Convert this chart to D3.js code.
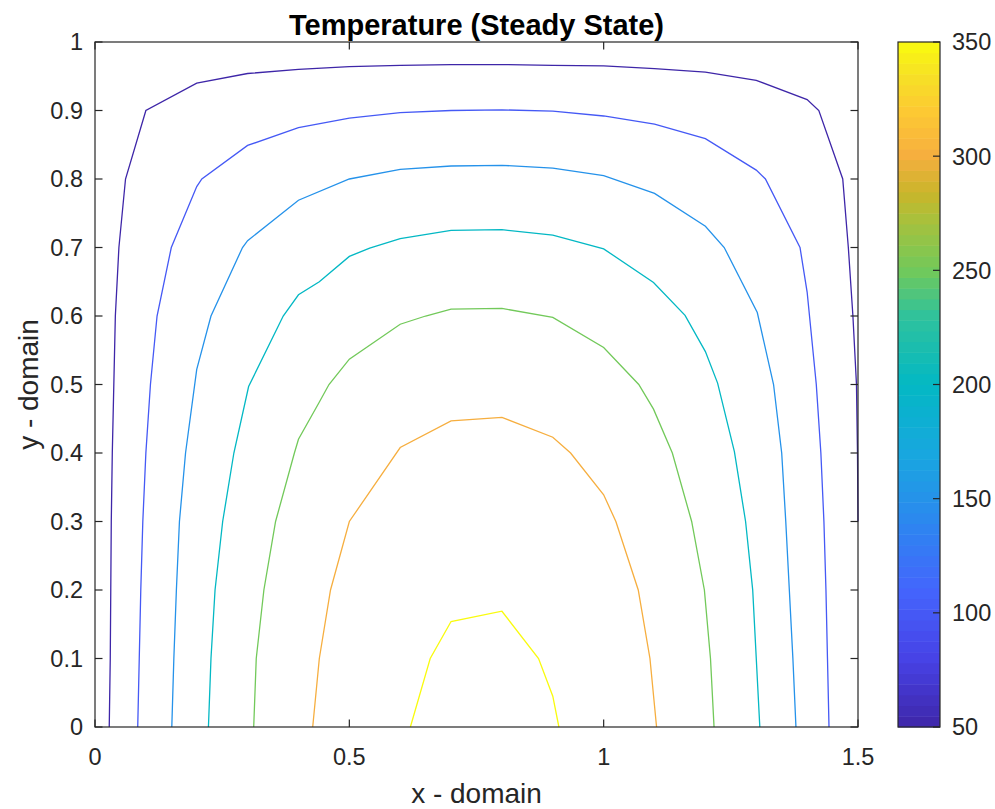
<!DOCTYPE html>
<html>
<head>
<meta charset="utf-8">
<script src="https://cdn.jsdelivr.net/npm/d3@7"></script>
<style>
body { margin: 0; background: #fff; }
text { font-family: "Liberation Sans", Arial, Helvetica, sans-serif; }
</style>
</head>
<body>
<div id="canvas"></div>
<script>
"use strict"

/* data: contour levels and the contour lines ([x, y]) */
let levels = [50, 100, 150, 200, 250, 300, 350];

let line50 = [[0.028,0],[0.030,0.1],[0.031,0.2],[0.032,0.3],[0.034,0.4],[0.037,0.5],[0.040,0.6],[0.047,0.7],[0.060,0.8],[0.100,0.9],
    [0.2,0.94],[0.3,0.954],[0.4,0.96],[0.5,0.964],[0.6,0.966],[0.7,0.967],[0.8,0.967],[0.9,0.966],[1.0,0.965],[1.1,0.961],
    [1.2,0.956],[1.3,0.944],[1.4,0.916],[1.423,0.9],[1.470,0.8],[1.481,0.7],[1.490,0.6],[1.497,0.5],[1.499,0.4],[1.5,0.3]];

let line100 = [[0.084,0],[0.087,0.1],[0.090,0.2],[0.094,0.3],[0.100,0.4],[0.109,0.5],[0.122,0.6],[0.150,0.7],[0.2,0.789],[0.21,0.8],
    [0.3,0.849],[0.4,0.875],[0.5,0.889],[0.6,0.897],[0.7,0.9],[0.8,0.901],[0.9,0.899],[1.0,0.892],[1.1,0.88],[1.2,0.859],
    [1.3,0.813],[1.318,0.8],[1.386,0.7],[1.4,0.635],[1.418,0.5],[1.427,0.4],[1.433,0.3],[1.437,0.2],[1.44,0.1],[1.443,0]];

let line150 = [[0.151,0],[0.155,0.1],[0.160,0.2],[0.166,0.3],[0.178,0.4],[0.2,0.522],[0.228,0.6],[0.29,0.7],[0.3,0.71],
    [0.4,0.769],[0.5,0.8],[0.6,0.814],[0.7,0.819],[0.8,0.82],[0.9,0.816],[1.0,0.805],[1.1,0.779],[1.2,0.731],[1.237,0.7],
    [1.302,0.605],[1.334,0.5],[1.35,0.4],[1.358,0.3],[1.365,0.2],[1.372,0.1],[1.378,0]];

let line200 = [[0.223,0],[0.228,0.1],[0.236,0.2],[0.251,0.3],[0.273,0.4],[0.302,0.497],[0.37,0.6],[0.4,0.631],[0.441,0.65],
    [0.5,0.687],[0.54,0.699],[0.6,0.713],[0.7,0.725],[0.8,0.726],[0.9,0.718],[1.0,0.698],[1.098,0.649],[1.16,0.601],
    [1.2,0.548],[1.224,0.502],[1.257,0.402],[1.279,0.3],[1.293,0.2],[1.3,0.1],[1.307,0]];

let line250 = [[0.312,0],[0.317,0.1],[0.332,0.2],[0.355,0.3],[0.392,0.4],[0.4,0.42],[0.44,0.473],[0.46,0.5],[0.5,0.537],
    [0.6,0.588],[0.65,0.6],[0.7,0.61],[0.8,0.611],[0.9,0.598],[1.0,0.554],[1.069,0.5],[1.098,0.464],[1.135,0.4],
    [1.173,0.3],[1.198,0.2],[1.21,0.1],[1.217,0]];

let line300 = [[0.428,0],[0.441,0.1],[0.463,0.2],[0.5,0.3],[0.6,0.408],[0.7,0.447],[0.8,0.452],[0.9,0.423],[0.935,0.4],
    [1.0,0.339],[1.024,0.3],[1.068,0.2],[1.091,0.1],[1.104,0]];

let line350 = [[0.62,0],[0.659,0.1],[0.7,0.154],[0.8,0.169],[0.872,0.1],[0.9,0.045],[0.912,0]];

let contourLines = [line50, line100, line150, line200, line250, line300, line350];

let xTicks = [0, 0.5, 1, 1.5];
let yTicks = [0, 0.1, 0.2, 0.3, 0.4, 0.5, 0.6, 0.7, 0.8, 0.9, 1];
let cbTicks = [50, 100, 150, 200, 250, 300, 350];

/* drawing config */
let svgWidth = 995;
let svgHeight = 809;
let plotLeft = 95, plotRight = 858, plotTop = 42, plotBottom = 727;
let cbLeft = 898, cbRight = 940;
let axisColor = "#262626";
let tickLen = 7.5;
let tickFont = 23.5;
let labelFont = 28;

let svg = d3.select("#canvas")
    .append("svg")
    .attr("width", svgWidth)
    .attr("height", svgHeight);

/* parula-like colormap */
let parulaStops = ["#3e26a8", "#4742e6", "#4465fd", "#2c87ef", "#18a7df", "#03b8c4",
    "#2fc29c", "#72c95a", "#b0bf38", "#c9b52a", "#f6ae3f", "#fdca33", "#f6e026", "#f9fb0e"];
let parulaPos = [0, 0.1, 0.2, 0.3, 0.4, 0.5, 0.6, 0.667, 0.75, 0.78, 0.833, 0.9, 0.95, 1];
let parula = d3.scaleLinear().domain(parulaPos).range(parulaStops).interpolate(d3.interpolateRgb).clamp(true);

let xScale = d3.scaleLinear().domain([0, 1.5]).range([plotLeft, plotRight]);
let yScale = d3.scaleLinear().domain([0, 1]).range([plotBottom, plotTop]);
let cScale = d3.scaleLinear().domain([50, 350]).range([0, 1]);
let cbScale = d3.scaleLinear().domain([50, 350]).range([plotBottom, plotTop]);

/* contour lines */
let lineGen = d3.line()
    .x(d => xScale(d[0]))
    .y(d => yScale(d[1]));

svg.selectAll(".contour")
    .data(contourLines)
    .join("path")
    .attr("class", "contour")
    .attr("fill", "none")
    .attr("stroke", (d, i) => parula(cScale(levels[i])))
    .attr("stroke-width", 1.3)
    .attr("d", lineGen);

/* axes box with inward ticks (MATLAB style) */
svg.append("rect")
    .attr("x", plotLeft)
    .attr("y", plotTop)
    .attr("width", plotRight - plotLeft)
    .attr("height", plotBottom - plotTop)
    .attr("fill", "none")
    .attr("stroke", axisColor)
    .attr("stroke-width", 1.2);

let tickG = svg.append("g").attr("stroke", axisColor).attr("stroke-width", 1.2);
xTicks.forEach(function(t) {
    tickG.append("line").attr("x1", xScale(t)).attr("x2", xScale(t))
        .attr("y1", plotBottom).attr("y2", plotBottom - tickLen);
    tickG.append("line").attr("x1", xScale(t)).attr("x2", xScale(t))
        .attr("y1", plotTop).attr("y2", plotTop + tickLen);
});
yTicks.forEach(function(t) {
    tickG.append("line").attr("x1", plotLeft).attr("x2", plotLeft + tickLen)
        .attr("y1", yScale(t)).attr("y2", yScale(t));
    tickG.append("line").attr("x1", plotRight).attr("x2", plotRight - tickLen)
        .attr("y1", yScale(t)).attr("y2", yScale(t));
});

svg.selectAll(".xTickLabel")
    .data(xTicks)
    .join("text")
    .attr("class", "xTickLabel")
    .attr("x", d => xScale(d))
    .attr("y", plotBottom + 38)
    .attr("text-anchor", "middle")
    .style("font-size", tickFont + "px")
    .attr("fill", axisColor)
    .text(d => d);

svg.selectAll(".yTickLabel")
    .data(yTicks)
    .join("text")
    .attr("class", "yTickLabel")
    .attr("x", plotLeft - 12)
    .attr("y", d => yScale(d) + 8.4)
    .attr("text-anchor", "end")
    .style("font-size", tickFont + "px")
    .attr("fill", axisColor)
    .text(d => d);

/* labels */
svg.append("text")
    .attr("x", (plotLeft + plotRight) / 2)
    .attr("y", 35)
    .attr("text-anchor", "middle")
    .style("font-size", "29px")
    .style("font-weight", "bold")
    .attr("fill", "#000")
    .text("Temperature (Steady State)");

svg.append("text")
    .attr("x", (plotLeft + plotRight) / 2)
    .attr("y", 803)
    .attr("text-anchor", "middle")
    .style("font-size", labelFont + "px")
    .attr("fill", axisColor)
    .text("x - domain");

svg.append("text")
    .attr("transform", "translate(38," + ((plotTop + plotBottom) / 2) + ") rotate(-90)")
    .attr("text-anchor", "middle")
    .style("font-size", labelFont + "px")
    .attr("fill", axisColor)
    .text("y - domain");

/* colorbar: 64 bands */
let nBands = 64;
let bands = d3.range(nBands);
let bandH = (plotBottom - plotTop) / nBands;
svg.selectAll(".cbBand")
    .data(bands)
    .join("rect")
    .attr("class", "cbBand")
    .attr("x", cbLeft)
    .attr("width", cbRight - cbLeft)
    .attr("y", d => plotBottom - (d + 1) * bandH)
    .attr("height", bandH + 0.5)
    .attr("fill", d => parula((d + 0.5) / nBands));

svg.append("rect")
    .attr("x", cbLeft)
    .attr("y", plotTop)
    .attr("width", cbRight - cbLeft)
    .attr("height", plotBottom - plotTop)
    .attr("fill", "none")
    .attr("stroke", axisColor)
    .attr("stroke-width", 1.2);

cbTicks.forEach(function(t) {
    svg.append("line")
        .attr("x1", cbRight).attr("x2", cbRight - 7)
        .attr("y1", cbScale(t)).attr("y2", cbScale(t))
        .attr("stroke", axisColor).attr("stroke-width", 1.2);
});

svg.selectAll(".cbLabel")
    .data(cbTicks)
    .join("text")
    .attr("class", "cbLabel")
    .attr("x", cbRight + 12)
    .attr("y", d => cbScale(d) + 8.4)
    .attr("text-anchor", "start")
    .style("font-size", tickFont + "px")
    .attr("fill", axisColor)
    .text(d => d);
</script>
</body>
</html>
